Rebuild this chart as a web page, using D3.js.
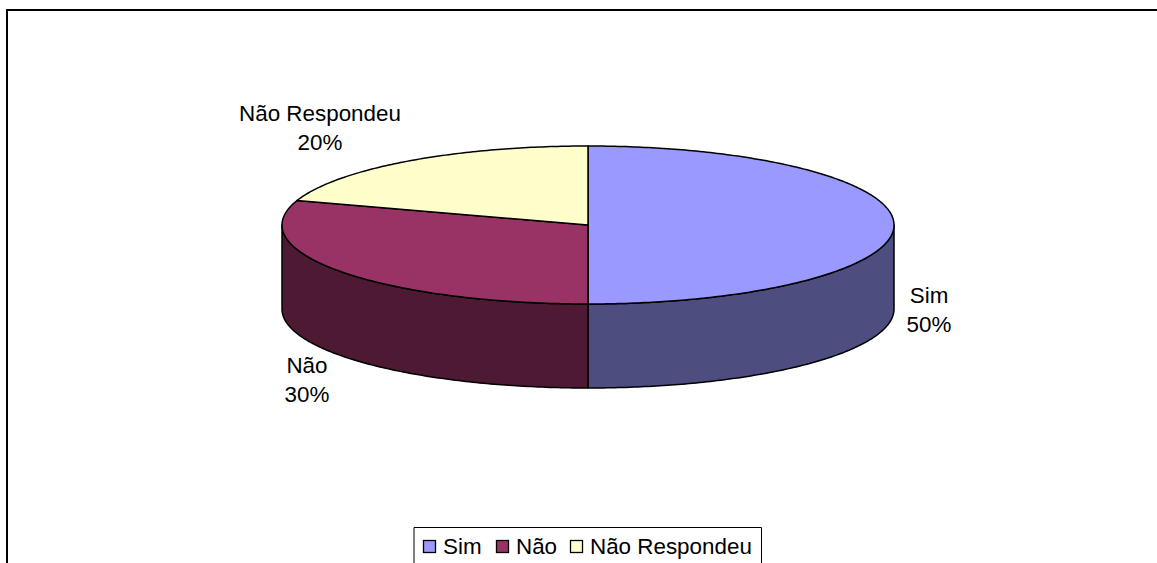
<!DOCTYPE html>
<html><head><meta charset="utf-8">
<script src="https://cdn.jsdelivr.net/npm/d3@7/dist/d3.min.js"></script>
<style>html,body{margin:0;padding:0;background:#fff}svg{display:block}text{font-family:"Liberation Sans",Arial,sans-serif;font-size:22.4px;fill:#000}</style>
</head><body><svg id="c" width="1157" height="563"></svg>
<script>
const categories = ["Sim","Não","Não Respondeu"];
const values = [50,30,20];
const labels = ["50%","30%","20%"];
const topColors = ["#9999FF","#993366","#FFFFCC"];
const sideColors = ["#4D4D80","#4D1933","#80801A"];

const svg = d3.select("#c");
const W=1157,H=563;
svg.append("path").attr("d",`M7,${H}V10H${W}`).attr("fill","none").attr("stroke","#000").attr("stroke-width",2);

const cx=588, cy=225, rx=306, ry=79, depth=84;
const px=a=>cx+rx*Math.sin(a), py=a=>cy-ry*Math.cos(a);
const arcs=d3.pie().sort(null).value(d=>d)(values);
const sample=(a0,a1,off=0)=>{const n=Math.max(2,Math.ceil((a1-a0)*80));
  return d3.range(n+1).map(i=>{const a=a0+(a1-a0)*i/n;return [px(a),py(a)+off];});};
const line=d3.line();
const g=svg.append("g").attr("stroke","#000").attr("stroke-width",1.5).attr("stroke-linejoin","round");

arcs.forEach((d,i)=>{
  const a0=Math.max(d.startAngle,Math.PI/2), a1=Math.min(d.endAngle,1.5*Math.PI);
  if(a1<=a0) return;
  const pts=sample(a0,a1).concat(sample(a0,a1,depth).reverse());
  g.append("path").attr("d",line(pts)+"Z").attr("fill",sideColors[i]);
});
arcs.forEach((d,i)=>{
  const pts=[[cx,cy]].concat(sample(d.startAngle,d.endAngle));
  g.append("path").attr("d",line(pts)+"Z").attr("fill",topColors[i]);
});

const labelPos=[[929,303],[307,373],[320,121]];
arcs.forEach((d,i)=>{
  const t=svg.append("text").attr("text-anchor","middle");
  t.append("tspan").attr("x",labelPos[i][0]).attr("y",labelPos[i][1]).text(categories[i]);
  t.append("tspan").attr("x",labelPos[i][0]).attr("y",labelPos[i][1]+28.5).text(labels[i]);
});

const lg=svg.append("g");
lg.append("path").attr("d",`M414,${H}V527.5H761.5V${H}`).attr("fill","#fff").attr("stroke","#000").attr("stroke-width",1);
const swX=[423,496,570], txX=[443,516,590];
categories.forEach((c,i)=>{
  lg.append("rect").attr("x",swX[i]+0.5).attr("y",540.5).attr("width",12).attr("height",12).attr("fill",topColors[i]).attr("stroke","#000").attr("stroke-width",1.3);
  lg.append("text").attr("x",txX[i]).attr("y",554).text(c);
});
</script></body></html>
